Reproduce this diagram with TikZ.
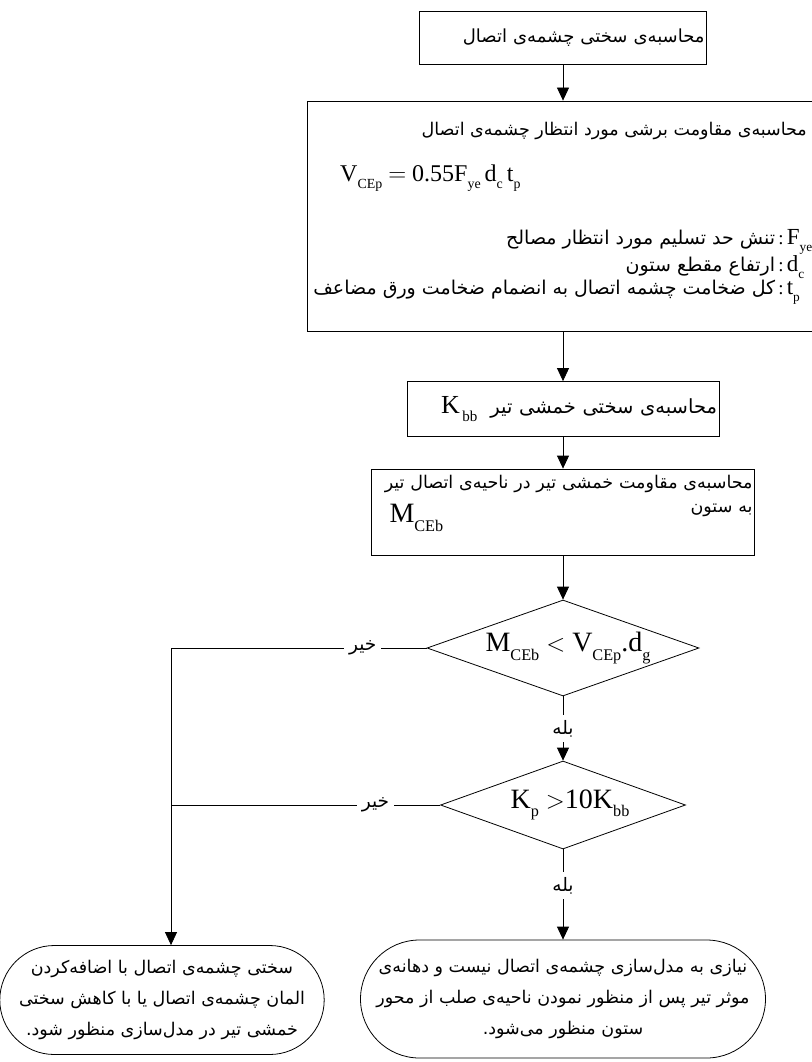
\documentclass[tikz,border=0pt]{standalone}
\usepackage{fontspec}
\setmainfont{Liberation Serif}
\newfontfamily\persianfont[Script=Arabic]{DejaVu Sans}
\TeXXeTstate=1
\usepackage{graphicx}
\usepackage{tikz}
\usetikzlibrary{positioning, arrows.meta, shapes.geometric, shapes.misc}
\newcommand{\fa}[1]{{\persianfont\beginR #1\endR}}
\newcommand{\vsub}[2]{#1\raisebox{-0.3em}{\scalebox{0.58}{#2}}}
\tikzset{
    flowchart/.style={
        x=1pt, y=-1pt,
        font=\fontsize{17.5}{24}\selectfont,
        >={Triangle[length=13pt, width=12pt]},
        box/.style={draw, rectangle, line width=0.8pt, inner sep=2pt},
        decision/.style={draw, diamond, line width=0.8pt, inner sep=0pt, font=\fontsize{28}{28}\selectfont},
        terminal/.style={draw, rounded rectangle, line width=0.8pt, align=center, inner sep=2pt, font=\fontsize{17.5}{31}\selectfont},
        arrow/.style={line width=0.8pt, ->},
        line/.style={line width=0.8pt},
        lbl/.style={fill=white, inner sep=5pt, font=\fontsize{18.5}{24}\selectfont}
    }
}

\begin{document}
\begin{tikzpicture}[flowchart]
        \useasboundingbox (0,0) rectangle (811,1062);

        % Boxes
        \node[box, minimum width=287pt, minimum height=53pt, text width=283pt, align=right, font=\fontsize{18}{24}\selectfont] (stiff) at (563,38) {\fa{محاسبه^^^^200cی سختی چشمه^^^^200cی اتصال}};

        \node[box, minimum width=512pt, minimum height=230pt] (shear) at (563,216) {};
        \node[anchor=east, inner sep=0pt] (shearTitle) at (807,131) {\fa{محاسبه^^^^200cی مقاومت برشی مورد انتظار چشمه^^^^200cی اتصال}};
        \node[anchor=west, inner sep=0pt, font=\fontsize{24}{24}\selectfont] (shearEq) at (340,178) {\vsub{V}{CEp}\ $=$\ 0.55\vsub{F}{ye}\,\vsub{d}{c}\,\vsub{t}{p}};
        \node[anchor=east, inner sep=0pt, align=right, font=\fontsize{19}{23}\selectfont] (shearDefs) at (811,267) {%
            \fa{تنش حد تسلیم مورد انتظار مصالح}\,:\,\makebox[24pt][l]{\fontsize{23}{23}\selectfont\vsub{F}{ye}}\\
            \fa{ارتفاع مقطع ستون}\,:\,\makebox[24pt][l]{\fontsize{23}{23}\selectfont\vsub{d}{c}}\\
            \fa{کل ضخامت چشمه اتصال به انضمام ضخامت ورق مضاعف}\,:\,\makebox[24pt][l]{\fontsize{23}{23}\selectfont\vsub{t}{p}}};

        \node[box, minimum width=312pt, minimum height=55pt, text width=308pt, align=right, font=\fontsize{19.5}{24}\selectfont] (kbb) at (563,409) {{\fontsize{26}{24}\selectfont\vsub{K}{\,bb}}\ \ \fa{محاسبه^^^^200cی سختی خمشی تیر}};

        \node[box, minimum width=383pt, minimum height=86pt, text width=379pt, align=right] (mceb) at (563,512) {\fa{محاسبه^^^^200cی مقاومت خمشی تیر در ناحیه^^^^200cی اتصال تیر}\\\makebox[\linewidth]{\hspace{16pt}\raisebox{-10pt}{\fontsize{28}{24}\selectfont\vsub{M}{CEb}}\hfill\fa{به ستون}\rule[-36pt]{0pt}{1pt}}};

        % Decisions
        \node[decision, minimum width=272pt, minimum height=96pt] (checkM) at (563,648) {\makebox[0pt]{\hspace*{10pt}\vsub{M}{CEb}\ $<$\ \vsub{V}{CEp}.\vsub{d}{g}}};
        \node[decision, minimum width=245pt, minimum height=88pt] (checkK) at (563,805) {\makebox[0pt]{\hspace*{14pt}\vsub{K}{p}\ $>$10\vsub{K}{bb}}};

        % Ends
        \node[terminal, minimum width=300pt, minimum height=109pt] (redo) at (162,1000) {\fa{سختی چشمه^^^^200cی اتصال با اضافه^^^^200cکردن}\\\fa{المان چشمه^^^^200cی اتصال یا با کاهش سختی}\\\fa{خمشی تیر در مدل^^^^200cسازی منظور شود.}};
        \node[terminal, minimum width=409pt, minimum height=118pt] (done) at (563,999) {\fa{نیازی به مدل^^^^200cسازی چشمه^^^^200cی اتصال نیست و دهانه^^^^200cی}\\\fa{موثر تیر پس از منظور نمودن ناحیه^^^^200cی صلب از محور}\\\fa{ستون منظور می^^^^200cشود.}};

        \coordinate (bus) at (171,648);

        % Arrows
        \draw[arrow] (stiff) -- (shear);
        \draw[arrow] (shear) -- (kbb);
        \draw[arrow] (kbb) -- (mceb);
        \draw[arrow] (mceb) -- (checkM);
        \draw[arrow] (checkM) -- node[lbl]{\fa{بله}} (checkK);
        \draw[arrow] (checkK) -- node[lbl, pos=.4]{\fa{بله}} (done);
        \draw[arrow] (checkM.west) -- node[lbl, pos=.25]{\fa{خیر}} (bus) -- (bus |- redo.north);
        \draw[line] (checkK.west) -- node[lbl, pos=.24]{\fa{خیر}} (checkK.west -| bus);

    \end{tikzpicture}
\end{document}
